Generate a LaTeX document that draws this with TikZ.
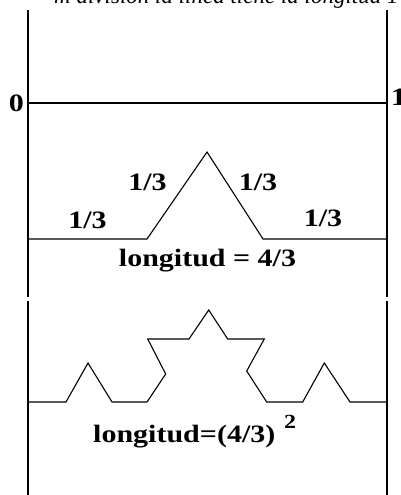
\documentclass[tikz,border=0pt]{standalone}
\usepackage{fontspec}
\setmainfont{Liberation Serif}
\newfontfamily\lblfont[FakeStretch=1.2]{Liberation Serif}
\begin{document}
\begin{tikzpicture}[x=1pt,y=-1pt,
  curve/.style={line width=1.1pt, line join=miter},
  lbl/.style={font=\lblfont\bfseries\fontsize{25}{25}\selectfont, inner sep=0pt},
  sup/.style={font=\lblfont\bfseries\fontsize{20}{20}\selectfont, inner sep=0pt},
  ttl/.style={font=\itshape\fontsize{23}{23}\selectfont, inner sep=0pt}]
\useasboundingbox (0,0) rectangle (401,495);
\clip (0,0) rectangle (401,495);
% partially cut title
\node[ttl, anchor=base west] (title) at (54,4) {m división la línea tiene la longitud 1};
% side verticals
\draw[curve] (28,10) -- (28,297) (28,301) -- (28,495);
\draw[curve] (387,10) -- (387,297) (387,301) -- (387,495);
% level 0
\draw[curve] (28,103) -- (387,103);
\node[lbl, anchor=east] (zero) at (24,103) {0};
\node[lbl, anchor=west] (one) at (391,97) {1};
% level 1
\draw[curve] (28,239) -- (147,239) -- (207,152) -- (263,239) -- (387,239);
\node[lbl] (a1) at (87.5,220) {1/3};
\node[lbl] (a2) at (147.5,182.5) {1/3};
\node[lbl] (a3) at (258,182.5) {1/3};
\node[lbl] (a4) at (323,218) {1/3};
\node[lbl, anchor=base] (len1) at (207.5,266) {longitud = 4/3};
% level 2
\draw[curve] (28,402) -- (66,402) -- (88,363) -- (112,402) -- (147,402)
  -- (165.7,374) -- (147.7,339) -- (189,339) -- (208.7,310) -- (227.7,339)
  -- (264.3,339) -- (246.7,371) -- (266.7,402) -- (302.7,402) -- (324.3,363)
  -- (350,402) -- (387,402);
\node[lbl, anchor=base west] (len2) at (93,442) {longitud=(4/3)};
\node[sup, anchor=base west] (sq) at (284,428) {2};
\end{tikzpicture}
\end{document}
